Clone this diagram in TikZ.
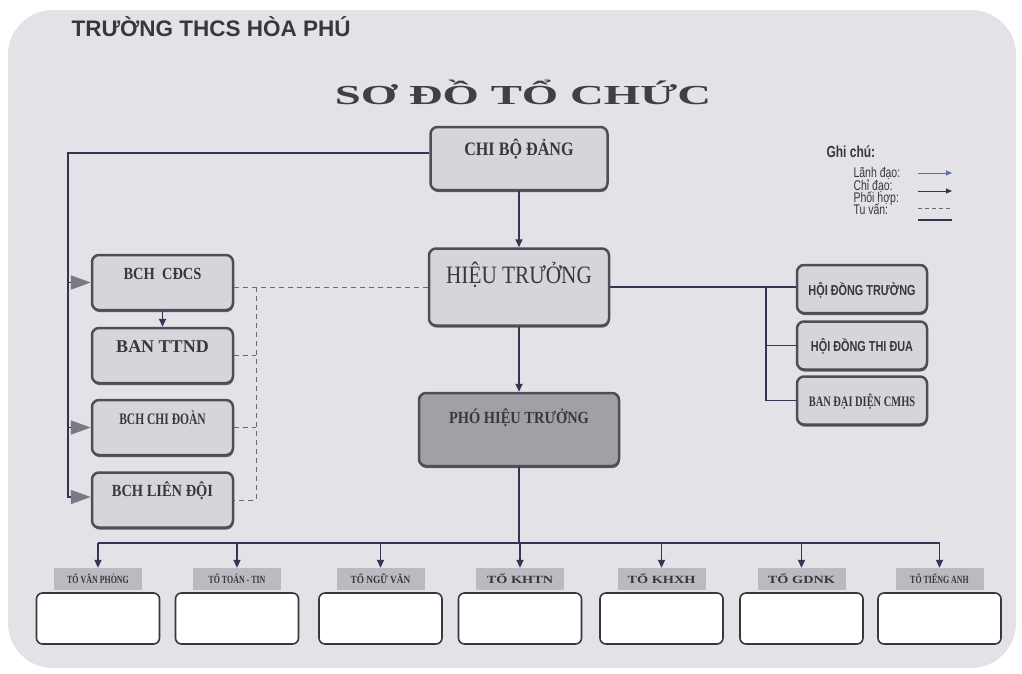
\documentclass[tikz,border=0pt]{standalone}
\usepackage{fontspec}
\setmainfont{Liberation Serif}
\newfontfamily\hsans{Liberation Sans}
\newfontfamily\nsans[FakeStretch=0.75]{Liberation Sans}
\newfontfamily\nserif[FakeStretch=0.85]{Liberation Serif}
\newfontfamily\cserif[FakeStretch=0.72]{Liberation Serif}
\newfontfamily\wserif[FakeStretch=1.3]{Liberation Serif}
\newfontfamily\tserif[FakeStretch=1.7]{Liberation Serif}
\newcommand{\fsz}[1]{\fontsize{#1}{#1}\selectfont}
\usetikzlibrary{arrows.meta,positioning,shadows}
\definecolor{panel}{RGB}{226,226,231}
\definecolor{boxfill}{RGB}{213,213,219}
\definecolor{boxline}{RGB}{78,78,86}
\definecolor{phtfill}{RGB}{160,160,167}
\definecolor{tagfill}{RGB}{186,186,192}
\definecolor{linkcol}{RGB}{52,54,80}
\definecolor{tipgray}{RGB}{120,122,135}
\definecolor{dashcol}{RGB}{105,105,115}
\definecolor{inkcol}{RGB}{55,55,62}
\definecolor{leadblue}{RGB}{95,110,175}
\tikzset{
  box/.style={draw=boxline, line width=2.5pt, rounded corners=7pt, fill=boxfill, inner sep=0pt, text=inkcol,
    drop shadow={shadow xshift=0.5pt, shadow yshift=-2pt, fill=boxline, opacity=0.9}},
  lbox/.style={box, minimum width=141pt, text height=24pt, text depth=31pt},
  rbox/.style={box, minimum width=130pt, text height=30pt, text depth=18pt},
  tag/.style={fill=tagfill, minimum width=88pt, minimum height=22pt, inner sep=0pt, text=inkcol},
  blank/.style={draw=inkcol, fill=white, line width=1.6pt, rounded corners=6pt, minimum width=123pt, minimum height=51pt, below=2pt of #1},
  link/.style={draw=linkcol, line width=1.8pt},
  chidao/.style={link, -{Triangle[length=8pt,width=7pt]}},
  lead/.style={link, line join=miter, -{Triangle[length=20pt,width=14pt,color=tipgray]}},
  phoihop/.style={draw=dashcol, line width=1pt, dash pattern=on 5pt off 4pt},
  legend/.style={anchor=base west, text=inkcol, font=\nsans\fsz{14}}
}
\begin{document}
\begin{tikzpicture}[x=1pt, y=-1pt]
  \useasboundingbox (0,0) rectangle (1022,673);
  \fill [white] (0,0) rectangle (1022,673);
  \fill [panel, rounded corners=45pt] (8,10) rectangle (1016,668);

  \node [anchor=base west, text=inkcol, font=\hsans\bfseries\fsz{22.5}] (school) at (68,36) {TRƯỜNG THCS HÒA PHÚ};
  \node [text=black!75, font=\tserif\bfseries\fsz{27.5}] (title) at (523,92) {SƠ ĐỒ TỔ CHỨC};

  \node [box, minimum width=177pt, text height=28pt, text depth=35pt, font=\nserif\bfseries\fsz{19}] (chibo) at (519,158.5) {CHI BỘ ĐẢNG};
  \node [box, minimum width=180pt, text height=34.5pt, text depth=42.5pt, font=\nserif\fsz{25}] (ht) at (519,287) {HIỆU TRƯỞNG};
  \node [box, fill=phtfill, minimum width=200pt, text height=30pt, text depth=43pt, font=\nserif\bfseries\fsz{17}] (pht) at (519,429.5) {PHÓ HIỆU TRƯỞNG};

  \node [lbox, font=\nserif\bfseries\fsz{17}] (cdcs) at (162.5,282.5) {BCH\ \ CĐCS};
  \node [lbox, font=\bfseries\fsz{18}] (ttnd) at (162.5,355.5) {BAN TTND};
  \node [lbox, font=\cserif\bfseries\fsz{16}] (chidoan) at (162.5,427.5) {BCH CHI ĐOÀN};
  \node [lbox, font=\nserif\bfseries\fsz{17}] (liendoi) at (162.5,500) {BCH LIÊN ĐỘI};

  \node [rbox, font=\nsans\bfseries\fsz{14.5}] (hdt) at (862,289) {HỘI ĐỒNG TRƯỜNG};
  \node [rbox, font=\nsans\bfseries\fsz{14.5}] (hdtd) at (862,345.5) {HỘI ĐỒNG THI ĐUA};
  \node [rbox, font=\cserif\bfseries\fsz{14.5}] (cmhs) at (862,400.5) {BAN ĐẠI DIỆN CMHS};

  \node [legend, font=\nsans\bfseries\fsz{16}] (ghichu) at (823,157) {Ghi chú:};
  \node [legend] (lanh) at (850,177) {Lãnh đạo:};
  \node [legend] (chi) at (850,190) {Chỉ đạo:};
  \node [legend] (phoi) at (850,202) {Phối hợp:};
  \node [legend] (tuvan) at (850,214) {Tu vấn:};
  \coordinate (k1) at (918,173);
  \coordinate (k2) at (918,191);
  \coordinate (k3) at (918,208);
  \coordinate (k4) at (918,220);
  \draw [draw=leadblue, line width=1pt, -{Triangle[length=6pt,width=5pt]}] (k1) -- ++(34,0);
  \draw [link, line width=1pt, -{Triangle[length=6pt,width=5pt]}] (k2) -- ++(34,0);
  \draw [phoihop, dash pattern=on 4pt off 3pt] (k3) -- ++(34,0);
  \draw [link, line width=1.2pt] (k4) -- ++(34,0);

  \foreach \n/\x/\f/\t in {vp/98/\cserif/TỔ VĂN PHÒNG, toan/237/\cserif/TỔ TOÁN - TIN, van/380.5/\nserif/TỔ NGỮ VĂN,
      khtn/520/\wserif/TỔ KHTN, khxh/661.5/\wserif/TỔ KHXH, gdnk/801.5/\wserif/TỔ GDNK, anh/939.5/\cserif/TỔ TIẾNG ANH} {
    \node [tag, font=\f\bfseries\fsz{11}] (\n) at (\x,579) {\t};
    \node [blank=\n] (\n box) {};
  }

  \draw [chidao] (chibo) -- (ht);
  \draw [chidao] (ht) -- (pht);
  \draw [chidao] (cdcs) -- (ttnd);

  \coordinate (bus) at (519,543);
  \draw [link] (pht) -- (bus);
  \draw [link, line width=2.2pt] (vp.north |- bus) -- (anh.north |- bus);
  \foreach \n in {vp,toan,van,khtn,khxh,gdnk,anh}
    \draw [chidao] (\n.north |- bus) -- (\n.north);

  \coordinate (lt) at (68,153);
  \coordinate (lb) at (68,497);
  \draw [lead] (chibo.west |- lt) -- (lt) -- (lb) -- (liendoi.west |- lb);
  \draw [lead] (lt |- cdcs.west) -- (cdcs.west);
  \draw [lead] (lt |- chidoan.west) -- (chidoan.west);

  \coordinate (dv) at (256,0);
  \draw [phoihop] (ht.west) -- (cdcs.east |- ht.west);
  \draw [phoihop] (dv |- ht.west) -- (dv |- liendoi.east) -- (liendoi.east);
  \foreach \n in {ttnd,chidoan}
    \draw [phoihop] (\n.east) -- (dv |- \n.east);

  \coordinate (rv) at (766,0);
  \draw [link] (ht.east) -- (ht.east -| hdt.west);
  \draw [link] (rv |- ht.east) -- (rv |- cmhs.west) -- (cmhs.west);
  \draw [link] (rv |- hdtd.west) -- (hdtd.west);
\end{tikzpicture}
\end{document}
